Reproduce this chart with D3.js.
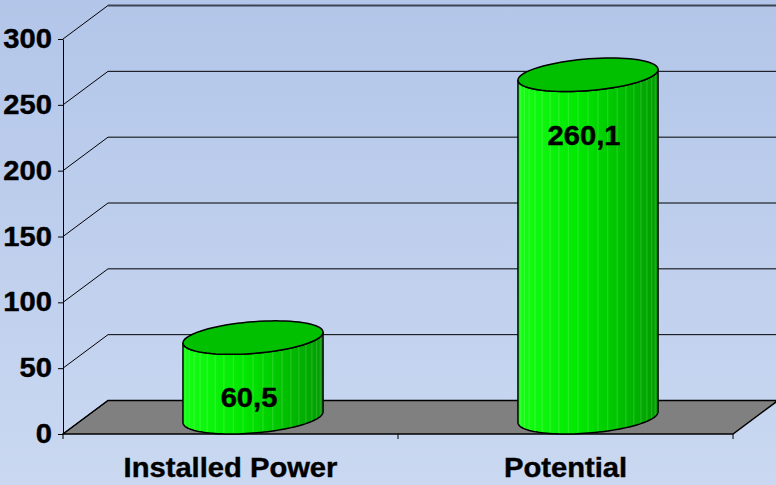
<!DOCTYPE html>
<html>
<head>
<meta charset="utf-8">
<script src="https://cdn.jsdelivr.net/npm/d3@7"></script>
<style>
  body { margin: 0; }
  svg text { font-family: "Liberation Sans", Arial, sans-serif; font-weight: bold; fill: #000; stroke: #000; stroke-width: 0.4px; }
</style>
</head>
<body>
<svg id="chart" width="776" height="485"></svg>
<script>
// data
const categories = ['Installed Power', 'Potential'];
const values = [60.5, 260.1];
const valueLabels = ['60,5', '260,1'];
const yTicks = [0, 50, 100, 150, 200, 250, 300];

const width = 776, height = 485;
const depthX = 45, depthY = -33.5; // oblique 3d offset of the back wall
const stretch = 1.08; // text is a bit wider than normal in the original
const fontSize = 27;

const svg = d3.select('#chart');

// background gradient
const defs = svg.append('defs');
const bg = defs.append('linearGradient').attr('id', 'bg').attr('x1', 0).attr('y1', 0).attr('x2', 0).attr('y2', 1);
bg.append('stop').attr('offset', 0).attr('stop-color', '#b3c6e9');
bg.append('stop').attr('offset', 1).attr('stop-color', '#cad8f1');

const cyl = defs.append('linearGradient').attr('id', 'cyl').attr('x1', 0).attr('y1', 0).attr('x2', 1).attr('y2', 0);
cyl.append('stop').attr('offset', 0).attr('stop-color', '#14ff14');
cyl.append('stop').attr('offset', 0.45).attr('stop-color', '#00e600');
cyl.append('stop').attr('offset', 1).attr('stop-color', '#009c00');

svg.append('rect').attr('width', width).attr('height', height).attr('fill', 'url(#bg)');

// scales
const y = d3.scaleLinear().domain([0, 300]).range([434, 39]);
const x = d3.scaleBand().domain(categories).range([63, 733]).padding(0);
const x0 = x.range()[0], x1 = x.range()[1];

// floor
svg.append('polygon')
    .attr('points', [[x0, y(0)], [x1, y(0)], [x1 + depthX, y(0) + depthY], [x0 + depthX, y(0) + depthY]].join(' '))
    .attr('fill', '#808080')
    .attr('stroke', '#000')
    .attr('stroke-width', 1.5);

// gridlines on back wall + side wall diagonals
const grid = svg.append('g');
grid.selectAll('line.back')
    .data(yTicks.slice(1))
    .enter().append('line')
    .attr('x1', x0 + depthX).attr('x2', width + 5)
    .attr('y1', d => y(d) + depthY).attr('y2', d => y(d) + depthY)
    .attr('stroke', d => d === 300 ? '#3c4452' : '#000')
    .attr('stroke-width', d => d === 300 ? 2 : 1);
grid.selectAll('line.side')
    .data(yTicks)
    .enter().append('line')
    .attr('x1', x0).attr('y1', d => y(d))
    .attr('x2', x0 + depthX).attr('y2', d => y(d) + depthY)
    .attr('stroke', '#000')
    .attr('stroke-width', 1);

// y axis
const yAxis = svg.append('g')
    .attr('transform', `translate(${x0},0)`)
    .call(d3.axisLeft(y).tickValues(yTicks).tickSize(5).tickSizeOuter(0).tickPadding(6));
yAxis.select('.domain').attr('stroke', '#000');
yAxis.selectAll('.tick line').attr('stroke', '#000');
yAxis.selectAll('.tick text')
    .attr('font-size', fontSize)
    .attr('font-family', '"Liberation Sans", Arial, sans-serif')
    .attr('x', -11 / stretch)
    .attr('transform', `scale(${stretch},1)`);

// x axis ticks and labels
svg.selectAll('line.xtick')
    .data([...categories.map(c => x(c)), x1])
    .enter().append('line')
    .attr('x1', d => d).attr('x2', d => d)
    .attr('y1', y(0)).attr('y2', y(0) + 5)
    .attr('stroke', '#000');

svg.selectAll('g.xlab')
    .data(categories)
    .enter().append('g')
    .attr('transform', d => `translate(${x(d) + x.bandwidth() / 2},477) scale(${stretch},1)`)
    .append('text')
    .attr('text-anchor', 'middle')
    .attr('font-size', fontSize)
    .text(d => d);

// cylinders
const rx = x.bandwidth() * 0.198;
const hx = depthX / 2, hy = depthY / 2;
const tLeft = Math.PI + Math.atan2(hx, rx);
const tRight = 2 * Math.PI + Math.atan2(hx, rx);

function ellipsePoint(cx, cy, t) {
    return [cx + rx * Math.cos(t) + hx * Math.sin(t), cy + hy * Math.sin(t)];
}

const bars = svg.selectAll('g.bar')
    .data(categories.map((c, i) => ({ c, v: values[i], label: valueLabels[i] })))
    .enter().append('g');

bars.each(function(d) {
    const g = d3.select(this);
    const cx = x(d.c) + x.bandwidth() / 2 + hx;
    const cyTop = y(d.v) + hy;
    const cyBot = y(0) + hy;
    const n = 60;
    const ts = d3.range(n + 1).map(i => tLeft + (tRight - tLeft) * i / n);
    const topArc = ts.map(t => ellipsePoint(cx, cyTop, t));
    const botArc = ts.map(t => ellipsePoint(cx, cyBot, t));
    const side = topArc.concat(botArc.slice().reverse());

    g.append('path')
        .attr('d', d3.line()(side) + 'Z')
        .attr('fill', 'url(#cyl)');

    // facet edges
    const facets = 22;
    d3.range(1, facets).forEach(i => {
        const t = tLeft + (tRight - tLeft) * i / facets;
        const p = ellipsePoint(cx, cyTop, t), q = ellipsePoint(cx, cyBot, t);
        g.append('line')
            .attr('x1', p[0]).attr('y1', p[1]).attr('x2', q[0]).attr('y2', q[1])
            .attr('stroke', '#ffffff').attr('stroke-opacity', 0.18).attr('stroke-width', 1);
    });

    g.append('path')
        .attr('d', d3.line()(side) + 'Z')
        .attr('fill', 'none')
        .attr('stroke', '#000')
        .attr('stroke-width', 1.5);

    const full = d3.range(0, 2 * Math.PI + 0.001, Math.PI / 40).map(t => ellipsePoint(cx, cyTop, t));
    g.append('path')
        .attr('d', d3.line()(full) + 'Z')
        .attr('fill', '#00c000')
        .attr('stroke', '#000')
        .attr('stroke-width', 1.5);

    g.append('g')
        .attr('transform', `translate(${cx - 4},${y(d.v) + 53}) scale(${stretch},1)`)
        .append('text')
        .attr('text-anchor', 'middle')
        .attr('font-size', fontSize)
        .text(d.label);
});
</script>
</body>
</html>
